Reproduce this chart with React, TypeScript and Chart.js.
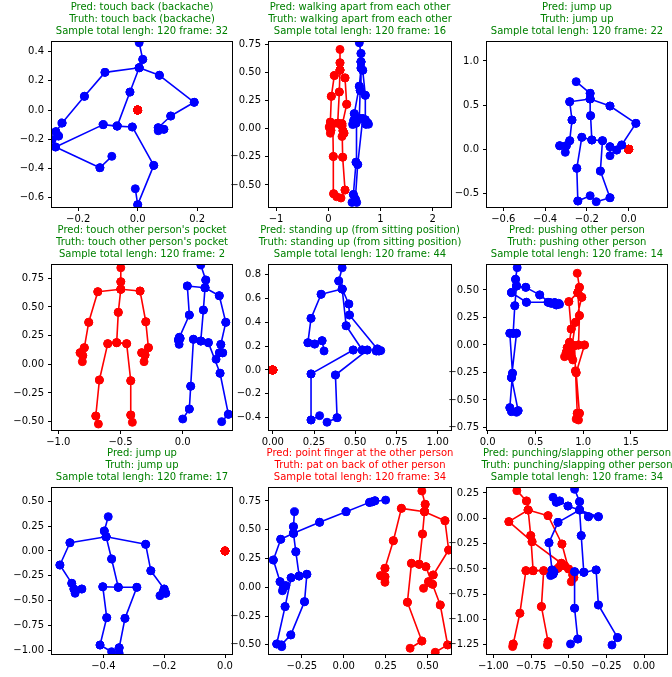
import React, { useEffect, useRef } from "react";
import { Chart, registerables } from "chart.js";
Chart.register(...registerables);

type Pt = [number, number];

// ---------- DATA ----------
// NTU RGB+D skeleton bones (1-based joint indices)
const bones: [number, number][] = [
  [1, 2], [2, 21], [3, 21], [4, 3], [5, 21], [6, 5], [7, 6], [8, 7], [9, 21], [10, 9], [11, 10], [12, 11],
  [13, 1], [14, 13], [15, 14], [16, 15], [17, 1], [18, 17], [19, 18], [20, 19], [22, 23], [23, 8], [24, 25], [25, 12],
];

const predLabels = [
  "touch back (backache)", "walking apart from each other", "jump up",
  "touch other person's pocket", "standing up (from sitting position)", "pushing other person",
  "jump up", "point finger at the other person", "punching/slapping other person",
];
const truthLabels = [
  "touch back (backache)", "walking apart from each other", "jump up",
  "touch other person's pocket", "standing up (from sitting position)", "pushing other person",
  "jump up", "pat on back of other person", "punching/slapping other person",
];
const totalLengths = [120, 120, 120, 120, 120, 120, 120, 120, 120];
const frames = [32, 16, 22, 2, 44, 14, 17, 34, 34];

// second body absent -> all joints at the origin
const absentPerson: Pt[] = [
  [0, 0], [0, 0], [0, 0], [0, 0], [0, 0], [0, 0], [0, 0], [0, 0], [0, 0], [0, 0], [0, 0], [0, 0], [0, 0],
  [0, 0], [0, 0], [0, 0], [0, 0], [0, 0], [0, 0], [0, 0], [0, 0], [0, 0], [0, 0], [0, 0], [0, 0],
];

// joints J1..J25 as [x, y]
const p1Blue: Pt[] = [
  [-0.069, -0.110], [-0.026, 0.123], [0.017, 0.347], [0.005, 0.461], [-0.110, 0.258], [-0.179, 0.094],
  [-0.254, -0.089], [-0.275, -0.148], [0.073, 0.238], [0.190, 0.053], [0.111, -0.041], [0.069, -0.121],
  [-0.116, -0.100], [-0.276, -0.253], [-0.127, -0.395], [-0.087, -0.317], [-0.018, -0.116], [0.054, -0.379],
  [0.000, -0.648], [-0.008, -0.539], [0.005, 0.290], [-0.287, -0.201], [-0.266, -0.178], [0.069, -0.142], [0.088, -0.132],
];
const p2Blue: Pt[] = [
  [0.594, 0.09], [0.61, 0.34], [0.626, 0.669], [0.594, 0.764], [0.626, 0.539], [0.594, 0.378],
  [0.498, 0.134], [0.487, 0.074], [0.659, 0.52], [0.709, 0.297], [0.709, 0.08], [0.755, 0.05],
  [0.54, 0.09], [0.531, -0.298], [0.48, -0.585], [0.454, -0.655], [0.659, 0.09], [0.563, -0.318],
  [0.518, -0.625], [0.544, -0.655], [0.626, 0.595], [0.467, 0.037], [0.531, 0.049], [0.77, 0.04], [0.72, 0.04],
];
const p2Red: Pt[] = [
  [0.180, 0.050], [0.211, 0.327], [0.224, 0.586], [0.224, 0.705], [0.115, 0.473], [0.058, 0.288],
  [0.039, 0.059], [0.020, 0.014], [0.320, 0.452], [0.352, 0.217], [0.262, 0.025], [0.280, -0.018],
  [0.086, 0.044], [0.096, -0.247], [0.102, -0.578], [0.160, -0.605], [0.262, 0.044], [0.275, -0.253],
  [0.320, -0.545], [0.243, -0.616], [0.224, 0.521], [0.039, -0.040], [0.050, -0.015], [0.262, -0.069], [0.300, -0.040],
];
const p3Blue: Pt[] = [
  [-0.176, 0.106], [-0.182, 0.381], [-0.184, 0.634], [-0.251, 0.766], [-0.282, 0.539], [-0.271, 0.332],
  [-0.282, 0.098], [-0.330, 0.041], [-0.089, 0.490], [0.035, 0.294], [-0.033, 0.049], [-0.057, -0.008],
  [-0.224, 0.136], [-0.248, -0.215], [-0.243, -0.585], [-0.184, -0.525], [-0.125, 0.098], [-0.135, -0.246],
  [-0.089, -0.548], [-0.155, -0.593], [-0.184, 0.570], [-0.303, -0.034], [-0.298, 0.041], [-0.089, -0.072], [-0.089, 0.030],
];
const p4Blue: Pt[] = [
  [0.145, 0.203], [0.166, 0.473], [0.185, 0.735], [0.145, 0.866], [0.037, 0.683], [0.053, 0.430],
  [-0.027, 0.235], [-0.035, 0.212], [0.294, 0.598], [0.346, 0.366], [0.306, 0.173], [0.295, 0.100],
  [0.086, 0.218], [0.064, -0.191], [0.053, -0.390], [0.000, -0.477], [0.206, 0.189], [0.300, -0.078],
  [0.367, -0.436], [0.313, -0.500], [0.179, 0.668], [-0.029, 0.174], [-0.021, 0.226], [0.268, 0.044], [0.321, 0.100],
];
const p4Red: Pt[] = [
  [-0.531, 0.189], [-0.518, 0.453], [-0.498, 0.720], [-0.498, 0.842], [-0.683, 0.633], [-0.756, 0.366],
  [-0.791, 0.145], [-0.825, 0.101], [-0.343, 0.639], [-0.297, 0.371], [-0.276, 0.145], [-0.330, 0.101],
  [-0.603, 0.180], [-0.670, -0.137], [-0.699, -0.451], [-0.678, -0.521], [-0.451, 0.180], [-0.418, -0.143],
  [-0.418, -0.442], [-0.405, -0.506], [-0.498, 0.654], [-0.807, 0.023], [-0.804, 0.075], [-0.311, 0.023], [-0.303, 0.081],
];
const p5Blue: Pt[] = [
  [0.543, 0.167], [0.445, 0.370], [0.400, 0.744], [0.421, 0.855], [0.293, 0.633], [0.232, 0.432],
  [0.213, 0.228], [0.254, 0.217], [0.461, 0.552], [0.465, 0.460], [0.634, 0.176], [0.644, 0.159],
  [0.488, 0.167], [0.232, -0.033], [0.232, -0.418], [0.284, -0.382], [0.573, 0.167], [0.380, -0.042],
  [0.390, -0.399], [0.329, -0.437], [0.421, 0.677], [0.311, 0.159], [0.299, 0.245], [0.655, 0.162], [0.628, 0.159],
];
const p6Blue: Pt[] = [
  [0.267, 0.106], [0.284, 0.357], [0.292, 0.597], [0.309, 0.703], [0.250, 0.476], [0.406, 0.388],
  [0.632, 0.388], [0.667, 0.379], [0.399, 0.524], [0.545, 0.455], [0.649, 0.385], [0.701, 0.385],
  [0.232, 0.106], [0.260, -0.257], [0.232, -0.570], [0.250, -0.606], [0.302, 0.106], [0.250, -0.297],
  [0.319, -0.597], [0.302, -0.612], [0.302, 0.536], [0.743, 0.379], [0.708, 0.376], [0.753, 0.370], [0.719, 0.364],
];
const p6Red: Pt[] = [
  [0.951, 0.000], [0.961, 0.267], [0.961, 0.524], [0.938, 0.652], [0.850, 0.394], [0.875, 0.145],
  [0.857, 0.024], [0.833, -0.024], [0.986, 0.433], [0.920, 0.206], [0.885, 0.000], [0.868, -0.076],
  [0.910, -0.006], [0.920, -0.236], [0.938, -0.621], [0.927, -0.673], [1.014, 0.000], [0.927, -0.252],
  [0.961, -0.621], [0.951, -0.682], [0.944, 0.476], [0.805, -0.106], [0.823, -0.067], [0.892, -0.136], [0.875, -0.106],
];
const p7Blue: Pt[] = [
  [-0.351, -0.365], [-0.373, -0.080], [-0.397, 0.201], [-0.384, 0.345], [-0.510, 0.083], [-0.543, -0.141],
  [-0.504, -0.325], [-0.497, -0.382], [-0.261, 0.067], [-0.244, -0.198], [-0.200, -0.382], [-0.195, -0.425],
  [-0.402, -0.359], [-0.389, -0.670], [-0.411, -0.945], [-0.373, -1.012], [-0.290, -0.365], [-0.329, -0.677],
  [-0.348, -0.972], [-0.348, -1.028], [-0.391, 0.144], [-0.493, -0.425], [-0.471, -0.382], [-0.214, -0.449], [-0.203, -0.409],
];
const p8Blue: Pt[] = [
  [-0.266, 0.098], [-0.286, 0.309], [-0.300, 0.527], [-0.294, 0.657], [-0.376, 0.417], [-0.420, 0.237],
  [-0.380, 0.049], [-0.360, -0.003], [-0.144, 0.565], [0.014, 0.657], [0.154, 0.738], [0.186, 0.752],
  [-0.314, 0.083], [-0.350, -0.168], [-0.400, -0.493], [-0.370, -0.516], [-0.220, 0.113], [-0.234, -0.125],
  [-0.316, -0.414], [-0.372, -0.500], [-0.300, 0.469], [-0.366, -0.030], [-0.346, 0.014], [0.250, 0.758], [0.170, 0.743],
];
const p8Red: Pt[] = [
  [0.450, 0.200], [0.470, 0.463], [0.486, 0.721], [0.466, 0.837], [0.344, 0.686], [0.296, 0.405],
  [0.246, 0.165], [0.220, 0.101], [0.604, 0.579], [0.626, 0.324], [0.534, 0.107], [0.506, 0.049],
  [0.404, 0.208], [0.380, -0.130], [0.466, -0.467], [0.396, -0.530], [0.490, 0.179], [0.576, -0.154],
  [0.620, -0.501], [0.546, -0.565], [0.482, 0.657], [0.246, 0.043], [0.246, 0.092], [0.476, -0.009], [0.530, 0.026],
];
const p9Blue: Pt[] = [
  [-0.400, -0.533], [-0.417, -0.171], [-0.428, 0.164], [-0.461, 0.286], [-0.571, -0.040], [-0.631, -0.241],
  [-0.611, -0.510], [-0.604, -0.553], [-0.369, 0.016], [-0.303, 0.016], [-0.505, 0.121], [-0.560, 0.171],
  [-0.461, -0.527], [-0.461, -0.888], [-0.440, -1.192], [-0.488, -1.241], [-0.318, -0.510], [-0.303, -0.856],
  [-0.176, -1.178], [-0.213, -1.251], [-0.428, 0.082], [-0.620, -0.566], [-0.598, -0.533], [-0.604, 0.207], [-0.582, 0.158],
];
const p9Red: Pt[] = [
  [-0.736, -0.517], [-0.752, -0.171], [-0.780, 0.171], [-0.844, 0.273], [-0.897, -0.033], [-0.743, -0.231],
  [-0.549, -0.444], [-0.571, -0.494], [-0.637, 0.026], [-0.545, -0.254], [-0.501, -0.500], [-0.473, -0.560],
  [-0.784, -0.517], [-0.824, -0.938], [-0.868, -1.241], [-0.872, -1.267], [-0.666, -0.517], [-0.681, -0.872],
  [-0.637, -1.218], [-0.641, -1.251], [-0.769, 0.082], [-0.560, -0.477], [-0.527, -0.468], [-0.483, -0.626], [-0.466, -0.586],
];

const bluePersons: Pt[][] = [p1Blue, p2Blue, p3Blue, p4Blue, p5Blue, p6Blue, p7Blue, p8Blue, p9Blue];
const redPersons: Pt[][] = [absentPerson, p2Red, absentPerson, p4Red, absentPerson, p6Red, absentPerson, p8Red, p9Red];

const xLimits: [number, number][] = [
  [-0.288, 0.317], [-1.136, 2.35], [-0.678, 0.184],
  [-1.051, 0.396], [-0.023, 1.081], [-0.007, 1.878],
  [-0.569, 0.023], [-0.446, 0.640], [-1.042, 0.152],
];
const yLimits: [number, number][] = [
  [-0.664, 0.466], [-0.696, 0.771], [-0.653, 1.215],
  [-0.573, 0.866], [-0.502, 0.878], [-0.773, 0.727],
  [-1.035, 0.633], [-0.580, 0.863], [-1.340, 0.299],
];
const xTickLabels: string[][] = [
  ["−0.2", "0.0", "0.2"], ["−1", "0", "1", "2"], ["−0.6", "−0.4", "−0.2", "0.0"],
  ["−1.0", "−0.5", "0.0"], ["0.00", "0.25", "0.50", "0.75", "1.00"], ["0.0", "0.5", "1.0", "1.5"],
  ["−0.4", "−0.2", "0.0"], ["−0.25", "0.00", "0.25", "0.50"], ["−1.00", "−0.75", "−0.50", "−0.25", "0.00"],
];
const yTickLabels: string[][] = [
  ["−0.6", "−0.4", "−0.2", "0.0", "0.2", "0.4"],
  ["−0.50", "−0.25", "0.00", "0.25", "0.50", "0.75"],
  ["−0.5", "0.0", "0.5", "1.0"],
  ["−0.50", "−0.25", "0.00", "0.25", "0.50", "0.75"],
  ["−0.4", "−0.2", "0.0", "0.2", "0.4", "0.6", "0.8"],
  ["−0.75", "−0.50", "−0.25", "0.00", "0.25", "0.50"],
  ["−1.00", "−0.75", "−0.50", "−0.25", "0.00", "0.25", "0.50"],
  ["−0.50", "−0.25", "0.00", "0.25", "0.50", "0.75"],
  ["−1.25", "−1.00", "−0.75", "−0.50", "−0.25", "0.00", "0.25"],
];

// ---------- LAYOUT / STYLE ----------
const W = 672;
const H = 677;
const colLeft = [52, 269, 487];
const colRight = [232, 451, 668];
const rowTop = [42, 265, 488];
const rowBottom = [207, 430, 654];
const Y_AXIS_W = 50;
const X_AXIS_H = 24;
const FONT = "'DejaVu Sans', sans-serif";
const BLUE = "#0000ff";
const RED = "#ff0000";

const toNum = (s: string) => parseFloat(s.replace("−", "-"));

function bonePath(joints: Pt[]) {
  const out: { x: number; y: number | null }[] = [];
  for (const [a, b] of bones) {
    const pa = joints[a - 1];
    const pb = joints[b - 1];
    out.push({ x: pa[0], y: pa[1] });
    out.push({ x: pb[0], y: pb[1] });
    out.push({ x: pb[0], y: null });
  }
  return out;
}

function personDataset(joints: Pt[], color: string) {
  return {
    data: bonePath(joints),
    showLine: true,
    spanGaps: false,
    borderColor: color,
    borderWidth: 1.6,
    backgroundColor: color,
    pointRadius: 4,
    pointBorderWidth: 1,
    pointBackgroundColor: color,
    pointBorderColor: color,
    pointHoverRadius: 4,
    clip: 0,
  };
}

function makeConfig(i: number) {
  const r = Math.floor(i / 3);
  const c = i % 3;
  const boxL = colLeft[c];
  const boxR = colRight[c];
  const boxT = rowTop[r];
  const boxB = rowBottom[r];
  const xLabels = xTickLabels[i];
  const yLabels = yTickLabels[i];
  const titleColor = predLabels[i] === truthLabels[i] ? "green" : "red";
  const titleLines = [
    `Pred: ${predLabels[i]}`,
    `Truth: ${truthLabels[i]}`,
    `Sample total lengh: ${totalLengths[i]} frame: ${frames[i]}`,
  ];

  const framePlugin = {
    id: "frameAndTitle" + i,
    afterDraw(chart: any) {
      const { ctx, chartArea: a } = chart;
      ctx.save();
      ctx.strokeStyle = "#000";
      ctx.lineWidth = 1;
      const l = Math.round(a.left) - 0.5;
      const t = Math.round(a.top) - 0.5;
      const rr = Math.round(a.right) + 0.5;
      const bb = Math.round(a.bottom) + 0.5;
      ctx.strokeRect(l, t, rr - l, bb - t);
      ctx.fillStyle = titleColor;
      ctx.font = `10px ${FONT}`;
      ctx.textAlign = "center";
      ctx.textBaseline = "middle";
      const cx = (a.left + a.right) / 2;
      titleLines.forEach((line, k) => {
        ctx.fillText(line, cx, a.top - 34.5 + k * 12);
      });
      ctx.restore();
    },
  };

  const tickFont = { family: FONT, size: 10 };
  const grid = {
    display: true,
    drawOnChartArea: false,
    drawTicks: true,
    tickLength: 4,
    color: "#000",
    lineWidth: 1,
  };

  return {
    type: "scatter" as const,
    data: {
      datasets: [personDataset(bluePersons[i], BLUE), personDataset(redPersons[i], RED)],
    },
    options: {
      responsive: false,
      maintainAspectRatio: false,
      animation: false as const,
      devicePixelRatio: 1,
      events: [] as any[],
      layout: {
        padding: {
          left: boxL - Y_AXIS_W,
          top: boxT,
          right: W - boxR,
          bottom: H - boxB - X_AXIS_H,
        },
      },
      plugins: {
        legend: { display: false },
        tooltip: { enabled: false },
        title: { display: false },
      },
      scales: {
        x: {
          type: "linear" as const,
          min: xLimits[i][0],
          max: xLimits[i][1],
          afterFit: (s: any) => {
            s.height = X_AXIS_H;
          },
          afterBuildTicks: (s: any) => {
            s.ticks = xLabels.map((lab) => ({ value: toNum(lab) }));
          },
          ticks: {
            callback: (_v: any, idx: number) => xLabels[idx],
            font: tickFont,
            color: "#000",
            padding: 2,
            maxRotation: 0,
            minRotation: 0,
            autoSkip: false,
          },
          grid,
          border: { display: false },
        },
        y: {
          type: "linear" as const,
          min: yLimits[i][0],
          max: yLimits[i][1],
          afterFit: (s: any) => {
            s.width = Y_AXIS_W;
          },
          afterBuildTicks: (s: any) => {
            s.ticks = yLabels.map((lab) => ({ value: toNum(lab) }));
          },
          ticks: {
            callback: (_v: any, idx: number) => yLabels[idx],
            font: tickFont,
            color: "#000",
            padding: 4,
            autoSkip: false,
          },
          grid,
          border: { display: false },
        },
      },
    },
    plugins: [framePlugin],
  };
}

export default function App() {
  const refs = useRef<(HTMLCanvasElement | null)[]>([]);

  useEffect(() => {
    const charts: Chart[] = [];
    for (let i = 0; i < 9; i++) {
      const cv = refs.current[i];
      if (cv) charts.push(new Chart(cv, makeConfig(i) as any));
    }
    return () => charts.forEach((ch) => ch.destroy());
  }, []);

  return (
    <div style={{ position: "absolute", left: 0, top: 0, width: W, height: H, background: "#fff" }}>
      {Array.from({ length: 9 }).map((_, i) => (
        <canvas
          key={i}
          ref={(el) => {
            refs.current[i] = el;
          }}
          width={W}
          height={H}
          style={{ position: "absolute", left: 0, top: 0, width: W, height: H }}
        />
      ))}
    </div>
  );
}
